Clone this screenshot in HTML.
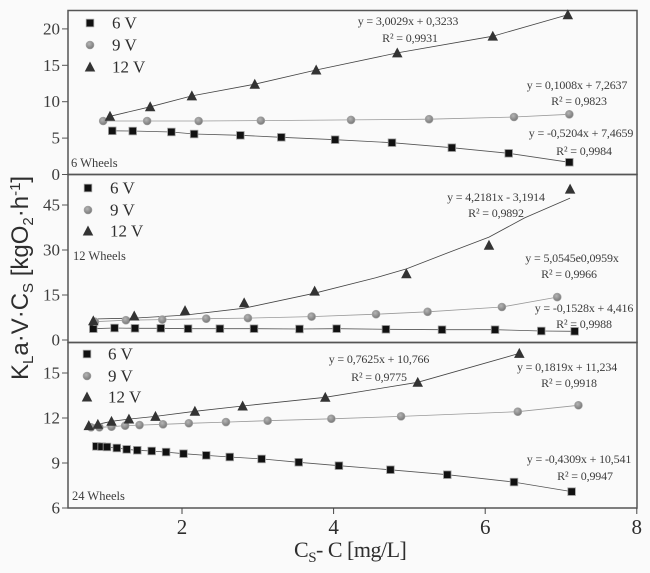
<!DOCTYPE html>
<html>
<head>
<meta charset="utf-8">
<title>Oxygen transfer chart</title>
<style>
html,body{margin:0;padding:0;background:#fafafa;}
#chart{display:block;width:650px;height:573px;filter:blur(0.35px);}
text{font-family:"Liberation Serif",serif;}
.eq{font-size:12px;fill:#3c3c3c;text-anchor:middle;letter-spacing:-0.15px;}
.wheel{font-size:12.5px;fill:#3c3c3c;}
.leg{font-size:17px;fill:#2e2e2e;}
.tick{font-size:17px;fill:#3c3c3c;text-anchor:end;}
.xt{font-size:21px;fill:#2e2e2e;text-anchor:middle;}
</style>
</head>
<body>
<svg id="chart" xmlns="http://www.w3.org/2000/svg" width="650" height="573" viewBox="0 0 650 573">
  <defs>
    <radialGradient id="ballGrad" cx="40%" cy="35%" r="70%">
      <stop offset="0%" stop-color="#b5b5b5"/>
      <stop offset="100%" stop-color="#737373"/>
    </radialGradient>
  </defs>
  <rect x="0" y="0" width="650" height="573" fill="#fafafa"/>
  <g id="frames"></g>
  <g id="axes"></g>
  <g id="marks"></g>
  <g id="legends"></g>

  <g>
    <text class="wheel" x="71" y="167">6 Wheels</text>
    <text class="wheel" x="73" y="260">12 Wheels</text>
    <text class="wheel" x="72" y="500">24 Wheels</text>
  </g>

  <g>
    <text class="eq" x="408" y="25">y = 3,0029x + 0,3233</text>
    <text class="eq" x="410" y="42">R² = 0,9931</text>
    <text class="eq" x="577" y="89">y = 0,1008x + 7,2637</text>
    <text class="eq" x="579" y="105">R² = 0,9823</text>
    <text class="eq" x="581" y="137">y = -0,5204x + 7,4659</text>
    <text class="eq" x="584" y="155">R² = 0,9984</text>

    <text class="eq" x="496" y="201">y = 4,2181x - 3,1914</text>
    <text class="eq" x="496" y="217">R² = 0,9892</text>
    <text class="eq" x="572" y="262">y = 5,0545e0,0959x</text>
    <text class="eq" x="569" y="278">R² = 0,9966</text>
    <text class="eq" x="584" y="312">y = -0,1528x + 4,416</text>
    <text class="eq" x="584" y="328">R² = 0,9988</text>

    <text class="eq" x="379" y="363">y = 0,7625x + 10,766</text>
    <text class="eq" x="379" y="381">R² = 0,9775</text>
    <text class="eq" x="567" y="371">y = 0,1819x + 11,234</text>
    <text class="eq" x="569" y="387">R² = 0,9918</text>
    <text class="eq" x="579" y="463">y = -0,4309x + 10,541</text>
    <text class="eq" x="585" y="480">R² = 0,9947</text>
  </g>

  <text x="294" y="557" font-size="22" letter-spacing="-0.5" fill="#2e2e2e">C<tspan font-size="15" dy="5">S</tspan><tspan dy="-5">- C [mg/L]</tspan></text>
  <text transform="translate(28,380) rotate(-90)" font-size="24" fill="#2e2e2e" style="font-family:'Liberation Sans',sans-serif">K<tspan font-size="15" dy="5">L</tspan><tspan dy="-5">a·V·C</tspan><tspan font-size="15" dy="5">S</tspan><tspan dy="-5"> [kgO</tspan><tspan font-size="15" dy="5">2</tspan><tspan dy="-5">·h</tspan><tspan font-size="15" dy="-8">-1</tspan><tspan dy="8">]</tspan></text>
</svg>
<script>
// Shared tick labels
const xTicks = [2, 4, 6, 8];
const panel1Ticks = [0, 5, 10, 15, 20];
const panel2Ticks = [0, 15, 30, 45];
const panel3Ticks = [6, 9, 12, 15];
const legendLabels = ['6 V', '9 V', '12 V'];

// Panel 1: 6 wheels
const p1x6 = [1.08, 1.35, 1.86, 2.16, 2.77, 3.31, 4.02, 4.77, 5.56, 6.31, 7.11];
const p1y6 = [6.0, 5.97, 5.84, 5.56, 5.38, 5.11, 4.78, 4.37, 3.68, 2.91, 1.68];
const p1x9 = [0.96, 1.54, 2.22, 3.04, 4.23, 5.26, 6.38, 7.11];
const p1y9 = [7.35, 7.35, 7.35, 7.4, 7.5, 7.6, 7.9, 8.27];
const p1x12 = [1.05, 1.58, 2.13, 2.96, 3.77, 4.84, 6.1, 7.09];
const p1y12 = [8.0, 9.3, 10.8, 12.4, 14.35, 16.7, 19.0, 21.95];

// Panel 2: 12 wheels
const p2x6 = [0.83, 1.11, 1.38, 1.72, 2.08, 2.5, 2.95, 3.55, 4.04, 4.69, 5.43, 6.13, 6.74, 7.18];
const p2y6 = [3.77, 4, 3.9, 3.9, 3.77, 3.77, 3.77, 3.67, 3.77, 3.57, 3.43, 3.43, 3, 2.9];
const p2x9 = [0.85, 1.26, 1.74, 2.32, 2.87, 3.71, 4.56, 5.24, 6.22, 6.95];
const p2y9 = [6.1, 6.6, 6.8, 7.1, 7.3, 7.8, 8.6, 9.4, 11, 14.3];
const p2x12 = [0.83, 1.37, 2.04, 2.82, 3.75, 4.96, 6.05, 7.12];
const p2y12 = [6.4, 8, 9.8, 12.4, 16.3, 22.1, 31.6, 50.3];
// Fitted curve of the 12 V series
const p2trendX12 = [0.83, 1.37, 2.04, 2.82, 3.75, 4.55, 4.96, 5.5, 6.05, 6.52, 7.12];
const p2trendY12 = [7.0, 7.3, 8.3, 10.6, 15.6, 20.7, 23.7, 29, 34.3, 40.7, 47.3];

// Panel 3: 24 wheels
const p3x6 = [0.87, 0.94, 1.01, 1.14, 1.27, 1.41, 1.6, 1.79, 2.02, 2.32, 2.63, 3.05, 3.54, 4.07, 4.75, 5.5, 6.38, 7.14];
const p3y6 = [10.11, 10.09, 10.07, 10, 9.91, 9.85, 9.8, 9.73, 9.62, 9.51, 9.4, 9.27, 9.05, 8.82, 8.55, 8.22, 7.73, 7.09];
const p3x9 = [0.8, 0.91, 1.07, 1.25, 1.44, 1.75, 2.09, 2.58, 3.13, 3.97, 4.89, 6.43, 7.23];
const p3y9 = [11.38, 11.38, 11.42, 11.49, 11.53, 11.58, 11.65, 11.73, 11.82, 11.95, 12.11, 12.42, 12.85];
const p3x12 = [0.77, 0.89, 1.07, 1.30, 1.65, 2.17, 2.80, 3.89, 5.11, 6.45];
const p3y12 = [11.49, 11.58, 11.78, 11.93, 12.11, 12.45, 12.8, 13.38, 14.38, 16.31];

const SVGNS = 'http://www.w3.org/2000/svg';
const frames = document.getElementById('frames');
const axes = document.getElementById('axes');
const marks = document.getElementById('marks');
const legends = document.getElementById('legends');

function make(tag, parent, props) {
  const el = document.createElementNS(SVGNS, tag);
  for (const k in props) el.setAttribute(k, props[k]);
  parent.appendChild(el);
  return el;
}

const PLOT_LEFT = 68;
const PLOT_RIGHT = 637;

function xScale(v) {
  return 182 + (v - 2) * 75.8;
}
function yScale1(v) {
  return 174.5 - v * 7.28;
}
function yScale2(v) {
  return 340 - v * 3;
}
function yScale3(v) {
  return 508 - (v - 6) * 15;
}

function drawSquare(parent, cx, cy, size, name) {
  const halo = make('rect', parent, {x: cx - size / 2 - 0.8, y: cy - size / 2 - 0.8, width: size + 1.6, height: size + 1.6, fill: '#a0a0a0'});
  
  
  const el = make('rect', parent, {x: cx - size / 2, y: cy - size / 2, width: size, height: size, fill: '#111'});
  
  
}
function drawCircle(parent, cx, cy, r, name) {
  const el = make('circle', parent, {cx: cx, cy: cy, r: r, fill: 'url(#ballGrad)', stroke: '#a5a5a5', 'stroke-width': 0.6});
  
  
}
function drawTriangle(parent, cx, cy, s, name) {
  const h = s * 0.95;
  const pts = (cx) + ',' + (cy - h * 0.55) + ' ' + (cx - s / 2) + ',' + (cy + h * 0.45) + ' ' + (cx + s / 2) + ',' + (cy + h * 0.45);
  const el = make('polygon', parent, {points: pts, fill: '#333'});
  
  
}

function drawLine(parent, xs, ys, yScale, color, name) {
  const pts = xs.map(function (x, i) { return xScale(x).toFixed(1) + ',' + yScale(ys[i]).toFixed(1); }).join(' ');
  const el = make('polyline', parent, {points: pts, fill: 'none', stroke: color, 'stroke-width': 0.8});
  
  
}

function drawSeries(xs, ys, yScale, kind, name) {
  const g = make('g', marks, {});
  
  
  xs.forEach(function (x, i) {
    const cx = xScale(x);
    const cy = yScale(ys[i]);
    if (kind === 'square') drawSquare(g, cx, cy, 6.8, name + '-point');
    if (kind === 'circle') drawCircle(g, cx, cy, 4, name + '-point');
    if (kind === 'triangle') drawTriangle(g, cx, cy, 10.5, name + '-point');
  });
}

function drawYTicks(ticks, yScale, panel) {
  ticks.forEach(function (t) {
    const y = yScale(t);
    const line = make('line', axes, {x1: 62, x2: PLOT_LEFT, y1: y, y2: y, stroke: '#555', 'stroke-width': 1});
    
    
    const label = make('text', axes, {class: 'tick', x: 60, y: y + 5.5});
    
    
    label.textContent = t;
  });
}

function drawFrame(top, bottom, panel) {
  const el = make('rect', frames, {x: PLOT_LEFT, y: top, width: PLOT_RIGHT - PLOT_LEFT, height: bottom - top, fill: 'none', stroke: '#555', 'stroke-width': 1.5});
  
  
}

function drawLegend(lx, tx, rows, panel) {
  rows.forEach(function (ry, i) {
    const name = panel + '-legend-marker-' + i;
    if (i === 0) drawSquare(legends, lx, ry, 6.8, name);
    if (i === 1) drawCircle(legends, lx, ry, 4, name);
    if (i === 2) drawTriangle(legends, lx, ry, 10.5, name);
    const label = make('text', legends, {class: 'leg', x: tx, y: ry + 5.5});
    
    
    label.textContent = legendLabels[i];
  });
}

// Frames
drawFrame(10.5, 174.5, 'panel-1');
drawFrame(174.5, 342.5, 'panel-2');
drawFrame(342.5, 508, 'panel-3');

// Axes
drawYTicks(panel1Ticks, yScale1, 'panel-1');
drawYTicks(panel2Ticks, yScale2, 'panel-2');
drawYTicks(panel3Ticks, yScale3, 'panel-3');
xTicks.forEach(function (t) {
  const x = xScale(t);
  const line = make('line', axes, {x1: x, x2: x, y1: 508, y2: 514, stroke: '#444', 'stroke-width': 1});
  
  
  const label = make('text', axes, {class: 'xt', x: x, y: 534});
  
  
  label.textContent = t;
});

// Trend lines
drawLine(marks, p1x6, p1y6, yScale1, '#555', 'trend-6w-6v');
drawLine(marks, p1x9, p1y9, yScale1, '#999', 'trend-6w-9v');
drawLine(marks, p1x12, p1y12, yScale1, '#444', 'trend-6w-12v');
drawLine(marks, p2x6, p2y6, yScale2, '#555', 'trend-12w-6v');
drawLine(marks, p2x9, p2y9, yScale2, '#999', 'trend-12w-9v');
drawLine(marks, p2trendX12, p2trendY12, yScale2, '#444', 'trend-12w-12v');
drawLine(marks, p3x6, p3y6, yScale3, '#555', 'trend-24w-6v');
drawLine(marks, p3x9, p3y9, yScale3, '#999', 'trend-24w-9v');
drawLine(marks, p3x12, p3y12, yScale3, '#444', 'trend-24w-12v');

// Points
drawSeries(p1x6, p1y6, yScale1, 'square', 'series-6w-6v');
drawSeries(p1x9, p1y9, yScale1, 'circle', 'series-6w-9v');
drawSeries(p1x12, p1y12, yScale1, 'triangle', 'series-6w-12v');
drawSeries(p2x6, p2y6, yScale2, 'square', 'series-12w-6v');
drawSeries(p2x9, p2y9, yScale2, 'circle', 'series-12w-9v');
drawSeries(p2x12, p2y12, yScale2, 'triangle', 'series-12w-12v');
drawSeries(p3x6, p3y6, yScale3, 'square', 'series-24w-6v');
drawSeries(p3x9, p3y9, yScale3, 'circle', 'series-24w-9v');
drawSeries(p3x12, p3y12, yScale3, 'triangle', 'series-24w-12v');

// Legends
drawLegend(90, 112, [23, 45, 67], 'panel-1');
drawLegend(88, 110, [188, 210, 231], 'panel-2');
drawLegend(87, 108, [354, 376, 397], 'panel-3');
</script>
</body>
</html>
